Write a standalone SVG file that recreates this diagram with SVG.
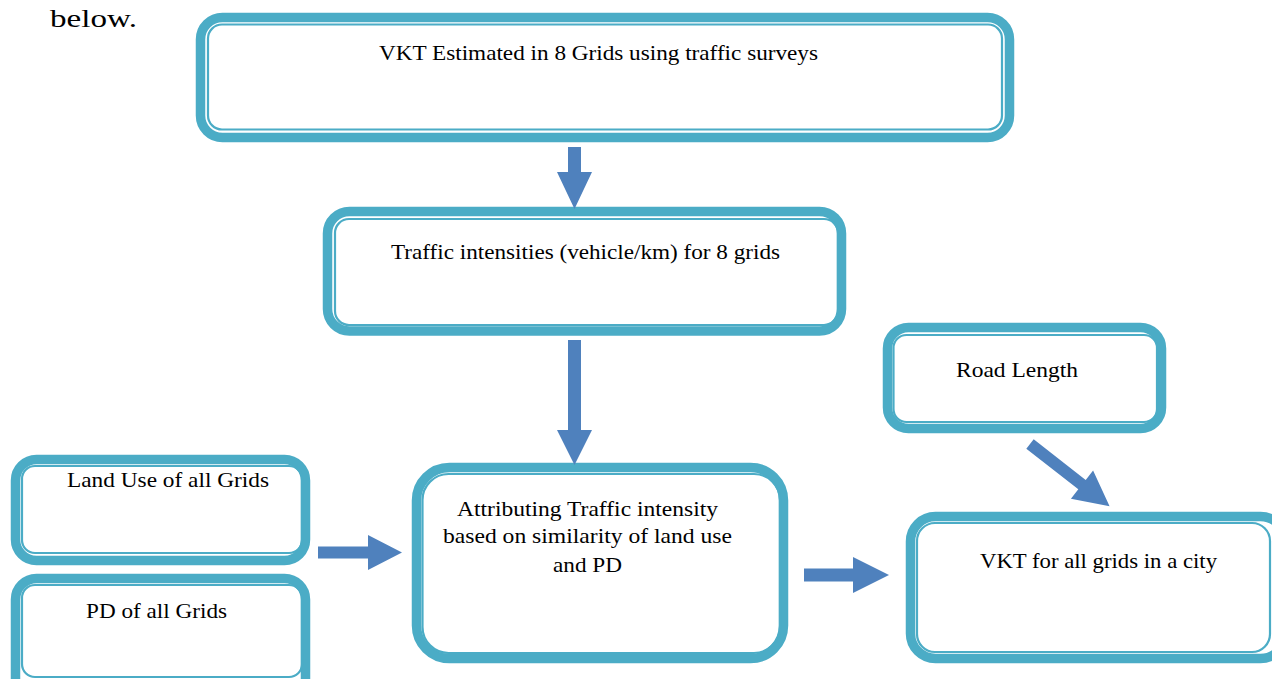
<svg xmlns="http://www.w3.org/2000/svg" width="1272" height="679" viewBox="0 0 1272 679">
<style>
.outer{fill:#fff;stroke:#4BACC6;stroke-width:9.5}
.inner{fill:none;stroke:#4BACC6;stroke-width:2.2}
.t{font-family:"Liberation Serif","Times New Roman",serif;font-size:21px;fill:#000}
.arr{fill:#4F81BD}
</style>
<rect width="1272" height="679" fill="#fff"/>
<text class="t" x="50" y="27" style="font-size:26px" textLength="87" lengthAdjust="spacingAndGlyphs">below.</text>
<g id="vkt-estimated">
<rect class="outer" x="200.5" y="17.5" width="809" height="120" rx="22"/>
<rect class="inner" x="208" y="24.5" width="794" height="105" rx="14"/>
<text class="t" x="379" y="60" textLength="439" lengthAdjust="spacingAndGlyphs">VKT Estimated in 8 Grids using traffic surveys</text>
</g>
<g id="traffic-intensities">
<rect class="outer" x="327.5" y="211.5" width="514" height="119.5" rx="22"/>
<rect class="inner" x="335" y="219" width="503" height="106" rx="14"/>
<text class="t" x="391" y="259" textLength="389" lengthAdjust="spacingAndGlyphs">Traffic intensities (vehicle/km) for 8 grids</text>
</g>
<g id="road-length">
<rect class="outer" x="887.5" y="327.5" width="274" height="101" rx="21"/>
<rect class="inner" x="893.5" y="335" width="263.5" height="87" rx="13"/>
<text class="t" x="956" y="377" textLength="122" lengthAdjust="spacingAndGlyphs">Road Length</text>
</g>
<g id="land-use">
<rect class="outer" x="15.5" y="459.5" width="290" height="101" rx="21"/>
<rect class="inner" x="22" y="466" width="280" height="87" rx="13"/>
<text class="t" x="67" y="487" textLength="202" lengthAdjust="spacingAndGlyphs">Land Use of all Grids</text>
</g>
<g id="pd">
<rect class="outer" x="15.5" y="578.5" width="290" height="130" rx="21"/>
<rect class="inner" x="22" y="585" width="280" height="92" rx="13"/>
<text class="t" x="86" y="618" textLength="141" lengthAdjust="spacingAndGlyphs">PD of all Grids</text>
</g>
<g id="attributing">
<rect class="outer" x="416.5" y="467.5" width="367" height="191" rx="33"/>
<rect class="inner" x="422.5" y="474" width="357.5" height="179" rx="26"/>
<text class="t" x="457" y="516" textLength="261" lengthAdjust="spacingAndGlyphs">Attributing Traffic intensity</text>
<text class="t" x="443" y="543" textLength="289" lengthAdjust="spacingAndGlyphs">based on similarity of land use</text>
<text class="t" x="553" y="572" textLength="69" lengthAdjust="spacingAndGlyphs">and PD</text>
</g>
<g id="vkt-city">
<rect class="outer" x="910.5" y="516.5" width="375" height="142" rx="25"/>
<rect class="inner" x="917" y="523" width="353" height="129" rx="18"/>
<text class="t" x="980" y="568" textLength="237" lengthAdjust="spacingAndGlyphs">VKT for all grids in a city</text>
</g>
<g id="connectors">
<polygon class="arr" points="568,147 581,147 581,172 592,172 574.5,209 557,172 568,172"/>
<polygon class="arr" points="568,340 581,340 581,430 592,430 574.5,465 557,430 568,430"/>
<polygon class="arr" points="318,546.5 368,546.5 368,535 402,552.5 368,570 368,558.5 318,558.5"/>
<polygon class="arr" points="804,568.5 853,568.5 853,557 889,575 853,593 853,581.5 804,581.5"/>
<polygon class="arr" points="0,-6 66,-6 66,-18 101,0 66,18 66,6 0,6" transform="translate(1030,444) rotate(38)"/>
</g>
</svg>
